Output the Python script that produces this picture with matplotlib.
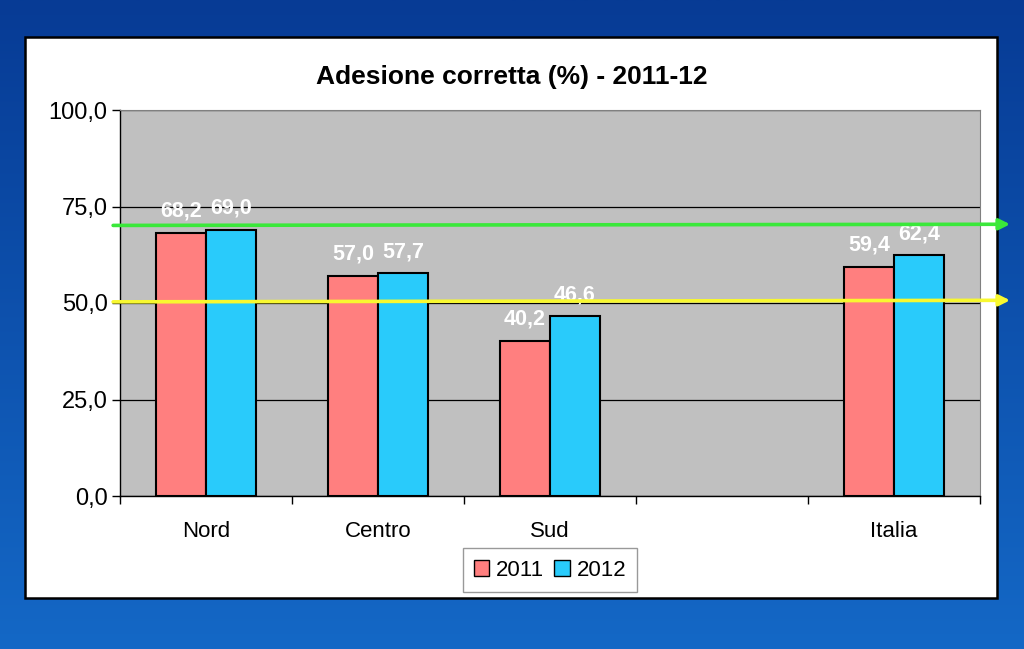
import matplotlib.pyplot as plt
import numpy as np
from matplotlib.colors import LinearSegmentedColormap
from matplotlib.patches import Rectangle

# Data
categories = ["Nord", "Centro", "Sud", "", "Italia"]
v2011 = [68.2, 57.0, 40.2, None, 59.4]
v2012 = [69.0, 57.7, 46.6, None, 62.4]
target_green = (70.1, 70.4)   # left / right end
target_yellow = (50.3, 50.7)
yticks = [0, 25, 50, 75, 100]

PINK = "#ff7f7f"
CYAN = "#29cbfb"
PLOT_BG = "#c0c0c0"

plt.rcParams["font.family"] = ["Liberation Sans", "DejaVu Sans"]

fig = plt.figure(figsize=(10.24, 6.49), dpi=100)

# blue gradient background
bg = fig.add_axes([0, 0, 1, 1], zorder=-10)
grad = np.linspace(0, 1, 256).reshape(-1, 1)
cmap = LinearSegmentedColormap.from_list("bg", ["#073b95", "#1468c6"])
bg.imshow(grad, aspect="auto", cmap=cmap, extent=[0, 1, 0, 1], origin="upper")
bg.set_axis_off()

# white panel
fig.patches.append(Rectangle((25 / 1024, 1 - 598 / 649), 972 / 1024, 561 / 649,
                             transform=fig.transFigure, facecolor="white",
                             edgecolor="black", linewidth=1.8, zorder=-5))

ax = fig.add_axes([120 / 1024, 1 - 496 / 649, 860 / 1024, 386 / 649])
ax.set_facecolor(PLOT_BG)
ax.set_xlim(-0.5, len(categories) - 0.5)
ax.set_ylim(0, 100)

xs = np.arange(len(categories))
w = 0.29
for i in xs:
    if v2011[i] is None:
        continue
    ax.bar(i - w / 2, v2011[i], width=w, color=PINK, edgecolor="black", linewidth=1.5, zorder=3)
    ax.bar(i + w / 2, v2012[i], width=w, color=CYAN, edgecolor="black", linewidth=1.5, zorder=3)
    for x, v in ((i - w / 2, v2011[i]), (i + w / 2, v2012[i])):
        ax.annotate(f"{v:.1f}".replace(".", ","), xy=(x, v), xytext=(0, 8),
                    textcoords="offset points", ha="center", va="bottom",
                    color="white", fontsize=15.5, fontweight="bold", zorder=5)

ax.set_yticks(yticks)
ax.set_yticklabels([f"{t:.1f}".replace(".", ",") for t in yticks], fontsize=17)
ax.yaxis.grid(True, color="black", linewidth=0.9)
ax.set_axisbelow(True)
ax.tick_params(axis="y", length=6, width=1, direction="out", pad=3)

ax.set_xticks(xs)
ax.set_xticklabels(categories, fontsize=16)
ax.set_xticks(np.arange(len(categories) + 1) - 0.5, minor=True)
ax.tick_params(axis="x", which="major", length=0, pad=18)
ax.tick_params(axis="x", which="minor", length=6, width=1, direction="out")

for side in ("top", "right"):
    ax.spines[side].set_color("#808080")
    ax.spines[side].set_linewidth(0.8)
for side in ("left", "bottom"):
    ax.spines[side].set_color("black")
    ax.spines[side].set_linewidth(1)

# title is centred on the panel, not on the plot area
fig.text(512 / 1024, 1 - 84 / 649, "Adesione corretta (%) - 2011-12", ha="center",
         va="baseline", fontsize=19, fontweight="bold")

# target arrows extending past the plot
tr = ax.get_yaxis_transform()
for (y0, y1), col in ((target_green, "#3ae83a"), (target_yellow, "#f8f830")):
    ax.annotate("", xy=(1.035, y1), xytext=(-0.008, y0), xycoords=tr, textcoords=tr,
                arrowprops=dict(arrowstyle="-|>", color=col, lw=2.6, mutation_scale=16,
                                shrinkA=0, shrinkB=0),
                annotation_clip=False, zorder=6)

handles = [Rectangle((0, 0), 1, 1, facecolor=PINK, edgecolor="black", linewidth=1),
           Rectangle((0, 0), 1, 1, facecolor=CYAN, edgecolor="black", linewidth=1)]
leg = fig.legend(handles, ["2011", "2012"], loc="center", bbox_to_anchor=(550 / 1024, 1 - 570 / 649),
                 ncol=2, fontsize=16, frameon=True, fancybox=False, handlelength=0.7,
                 handleheight=0.7, handletextpad=0.3, columnspacing=0.45, borderpad=0.5,
                 borderaxespad=0)
leg.get_frame().set_edgecolor("#808080")
leg.get_frame().set_linewidth(1)

fig.savefig("out.png", dpi=100)
